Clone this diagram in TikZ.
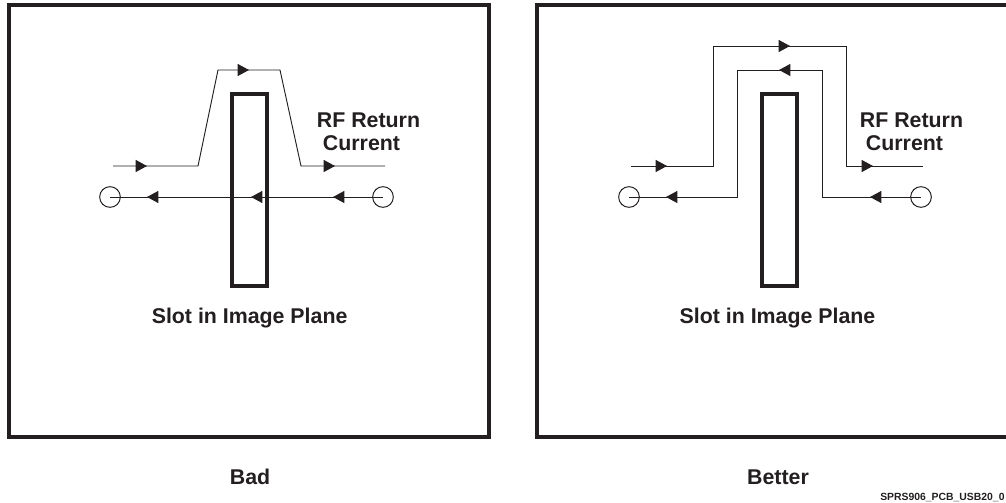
\documentclass[tikz,border=0pt]{standalone}
\usepackage{fontspec}
\setmainfont{Liberation Sans}
\usetikzlibrary{arrows.meta}
\definecolor{inkblack}{HTML}{231F20}
\tikzset{
  panel/.style={draw=inkblack, line width=3pt},
  slotbox/.style={draw=inkblack, line width=3pt},
  wire/.style={draw=inkblack, line width=0.7pt},
  tiparrow/.style={draw=inkblack, line width=0.7pt, -{Triangle[length=8.5pt,width=9pt]}},
  port/.style={circle, draw=inkblack, line width=0.75pt, minimum size=15.5pt, inner sep=0pt},
  label/.style={inner sep=0pt, text=inkblack, font=\fontsize{16}{18}\selectfont\bfseries},
}
\begin{document}
\begin{tikzpicture}[x=0.75pt, y=-0.75pt]
    \useasboundingbox (0,0) rectangle (1006,503);
    % Panels
    \draw[panel] (9,5.5) rectangle (489,437);
    \draw[panel] (537,5.5) rectangle (1012,437);
    % Slots
    \draw[slotbox] (232,94) rectangle (267,286);
    \draw[slotbox] (762,94) rectangle (797,286);
    % Ports
    \node[port] (portBadL) at (110,197) {};
    \node[port] (portBadR) at (383,197) {};
    \node[port] (portGoodL) at (629,197) {};
    \node[port] (portGoodR) at (921,197) {};
    % Bad: signal and return
    \coordinate (badA) at (113,166);
    \coordinate (badB) at (198,166);
    \coordinate (badC) at (218,70);
    \coordinate (badD) at (280,70);
    \coordinate (badE) at (301,166);
    \coordinate (badF) at (385,166);
    \draw[wire] (badA) -- (badB) -- (badC) -- (badD) -- (badE) -- (badF);
    \draw[wire] (portBadR.center) -- (portBadL.center);
    % Better: signal and return
    \coordinate (goodA) at (631,166);
    \coordinate (goodB) at (713,166);
    \coordinate (goodC) at (713,46);
    \coordinate (goodD) at (846,46);
    \coordinate (goodE) at (846,166);
    \coordinate (goodF) at (923,166);
    \coordinate (retA) at (822,197);
    \coordinate (retB) at (822,70);
    \coordinate (retC) at (737,70);
    \coordinate (retD) at (737,197);
    \draw[wire] (goodA) -- (goodB) -- (goodC) -- (goodD) -- (goodE) -- (goodF);
    \draw[wire] (portGoodR.center) -- (retA) -- (retB) -- (retC) -- (retD) -- (portGoodL.center);
    % Arrow heads pointing right
    \foreach \x/\y in {147/166, 249/70, 335/166, 667/166, 790/46, 873/166}
        \draw[tiparrow] (\x-4,\y) -- (\x,\y);
    % Arrow heads pointing left
    \foreach \x/\y in {147/197, 251/197, 333/197, 870/197, 779/70, 666/197}
        \draw[tiparrow] (\x+4,\y) -- (\x,\y);
    % Labels
    \node[label, anchor=base] (rfBadA) at (368.5,127) {RF Return};
    \node[label, anchor=base] (rfBadB) at (361.5,150) {Current};
    \node[label, anchor=base] (rfGoodA) at (911.5,127) {RF Return};
    \node[label, anchor=base] (rfGoodB) at (904.5,150) {Current};
    \node[label, anchor=base] (slotBad) at (249.6,323.5) {Slot in Image Plane};
    \node[label, anchor=base] (slotGood) at (777.5,323.5) {Slot in Image Plane};
    \node[label, anchor=base] (nameBad) at (250,484.5) {Bad};
    \node[label, anchor=base] (nameGood) at (778,484.5) {Better};
    \node[inner sep=0pt, anchor=base west, text=inkblack, font=\fontsize{7.8}{9}\selectfont\bfseries] (figId) at (880,500.5) {SPRS906\_PCB\_USB20\_0};
\end{tikzpicture}
\end{document}
